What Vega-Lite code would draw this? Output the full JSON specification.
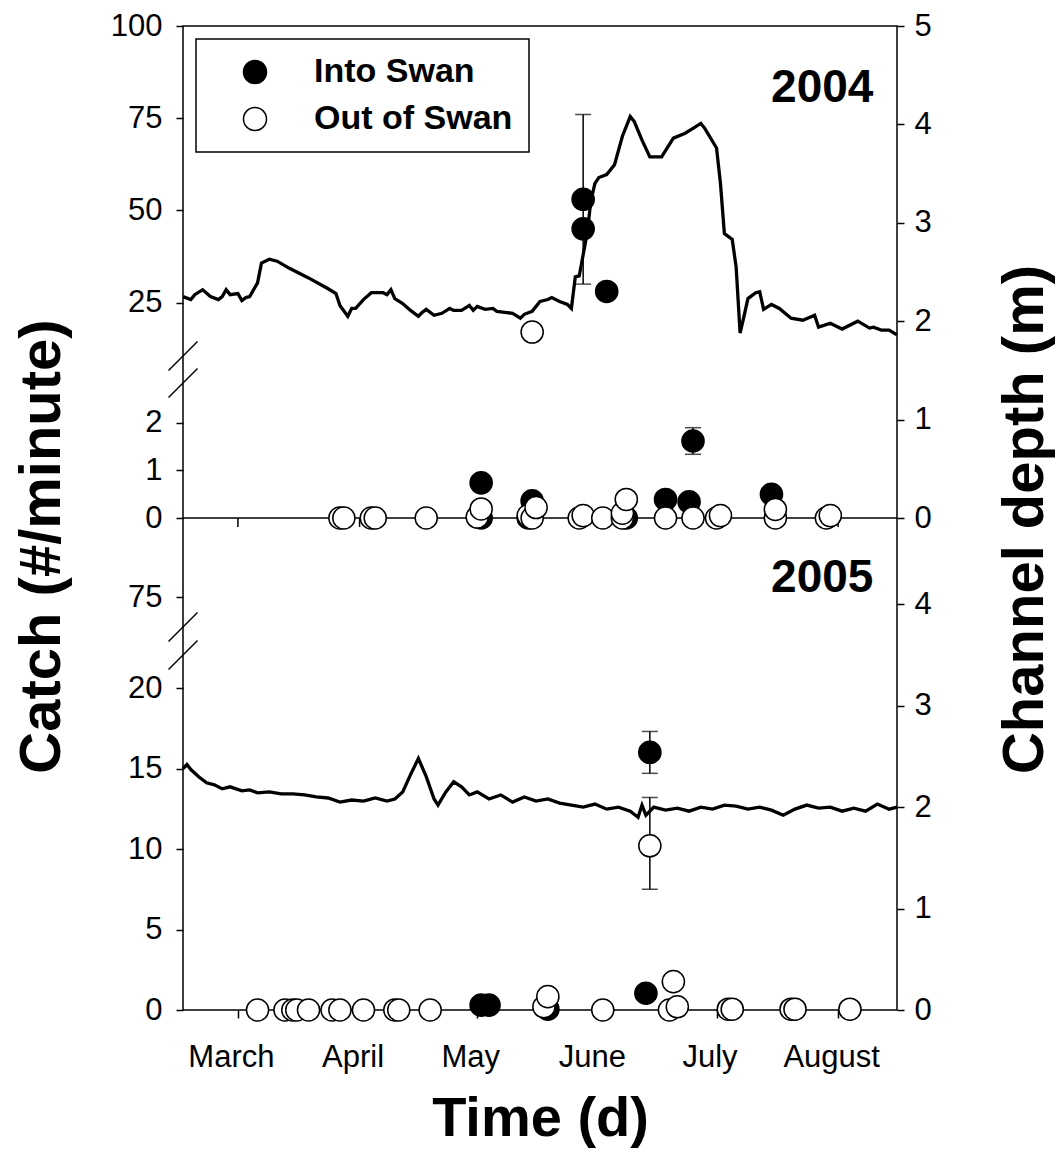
{
  "$schema": "https://vega.github.io/schema/vega-lite/v6.json",
  "width": 714,
  "height": 984,
  "autosize": {"type": "none"},
  "padding": {"left": 183, "top": 26, "right": 160, "bottom": 155},
  "background": "white",
  "config": {
    "view": {"stroke": "black", "strokeWidth": 1.5},
    "font": "Liberation Sans",
    "axis": {
      "domain": false, "grid": false, "ticks": true, "tickColor": "black", "tickWidth": 1.5, "tickSize": 7,
      "labelFont": "Liberation Sans", "labelFontSize": 31, "labelColor": "black",
      "titleFont": "Liberation Sans", "titleFontSize": 58, "titleFontWeight": "bold", "titleColor": "black",
      "labelFlush": false, "labelOverlap": false
    },
    "legend": {"strokeWidth": 1.5}
  },
  "datasets": {
    "depth2004": [
      {"date": "2004/02/16", "depth": 2.25}, {"date": "2004/02/18", "depth": 2.22}, {"date": "2004/02/19", "depth": 2.27},
      {"date": "2004/02/21", "depth": 2.32}, {"date": "2004/02/23", "depth": 2.25}, {"date": "2004/02/25", "depth": 2.22},
      {"date": "2004/02/26", "depth": 2.25}, {"date": "2004/02/27", "depth": 2.32}, {"date": "2004/02/28", "depth": 2.27},
      {"date": "2004/03/01", "depth": 2.28}, {"date": "2004/03/02", "depth": 2.21}, {"date": "2004/03/03", "depth": 2.24},
      {"date": "2004/03/04", "depth": 2.25}, {"date": "2004/03/06", "depth": 2.39}, {"date": "2004/03/07", "depth": 2.59},
      {"date": "2004/03/09", "depth": 2.63}, {"date": "2004/03/11", "depth": 2.61}, {"date": "2004/03/14", "depth": 2.54},
      {"date": "2004/03/19", "depth": 2.44}, {"date": "2004/03/24", "depth": 2.33}, {"date": "2004/03/26", "depth": 2.28},
      {"date": "2004/03/27", "depth": 2.16}, {"date": "2004/03/29", "depth": 2.05}, {"date": "2004/03/30", "depth": 2.13},
      {"date": "2004/03/31", "depth": 2.13}, {"date": "2004/04/02", "depth": 2.22}, {"date": "2004/04/04", "depth": 2.29},
      {"date": "2004/04/07", "depth": 2.29}, {"date": "2004/04/08", "depth": 2.27}, {"date": "2004/04/09", "depth": 2.32},
      {"date": "2004/04/10", "depth": 2.23}, {"date": "2004/04/12", "depth": 2.18}, {"date": "2004/04/14", "depth": 2.11},
      {"date": "2004/04/16", "depth": 2.05}, {"date": "2004/04/17", "depth": 2.09}, {"date": "2004/04/18", "depth": 2.12},
      {"date": "2004/04/20", "depth": 2.06}, {"date": "2004/04/22", "depth": 2.08}, {"date": "2004/04/24", "depth": 2.13},
      {"date": "2004/04/25", "depth": 2.11}, {"date": "2004/04/27", "depth": 2.11}, {"date": "2004/04/29", "depth": 2.16},
      {"date": "2004/04/30", "depth": 2.11}, {"date": "2004/05/01", "depth": 2.15}, {"date": "2004/05/03", "depth": 2.12},
      {"date": "2004/05/05", "depth": 2.13}, {"date": "2004/05/06", "depth": 2.10}, {"date": "2004/05/08", "depth": 2.09},
      {"date": "2004/05/10", "depth": 2.08}, {"date": "2004/05/12", "depth": 2.03}, {"date": "2004/05/13", "depth": 2.07},
      {"date": "2004/05/15", "depth": 2.10}, {"date": "2004/05/17", "depth": 2.20}, {"date": "2004/05/19", "depth": 2.22},
      {"date": "2004/05/20", "depth": 2.24}, {"date": "2004/05/22", "depth": 2.20}, {"date": "2004/05/24", "depth": 2.17},
      {"date": "2004/05/25", "depth": 2.13}, {"date": "2004/05/26", "depth": 2.45}, {"date": "2004/05/27", "depth": 2.46},
      {"date": "2004/05/29", "depth": 2.89}, {"date": "2004/05/30", "depth": 3.23}, {"date": "2004/05/31", "depth": 3.40},
      {"date": "2004/06/01", "depth": 3.46}, {"date": "2004/06/03", "depth": 3.49}, {"date": "2004/06/05", "depth": 3.59},
      {"date": "2004/06/07", "depth": 3.88}, {"date": "2004/06/09", "depth": 4.08}, {"date": "2004/06/10", "depth": 4.03},
      {"date": "2004/06/12", "depth": 3.84}, {"date": "2004/06/14", "depth": 3.67}, {"date": "2004/06/17", "depth": 3.67},
      {"date": "2004/06/20", "depth": 3.86}, {"date": "2004/06/23", "depth": 3.91}, {"date": "2004/06/25", "depth": 3.96},
      {"date": "2004/06/27", "depth": 4.01}, {"date": "2004/06/28", "depth": 3.96}, {"date": "2004/07/01", "depth": 3.76},
      {"date": "2004/07/02", "depth": 3.40}, {"date": "2004/07/03", "depth": 2.89}, {"date": "2004/07/05", "depth": 2.83},
      {"date": "2004/07/06", "depth": 2.55}, {"date": "2004/07/07", "depth": 1.88}, {"date": "2004/07/08", "depth": 2.05},
      {"date": "2004/07/09", "depth": 2.23}, {"date": "2004/07/11", "depth": 2.29}, {"date": "2004/07/12", "depth": 2.30},
      {"date": "2004/07/13", "depth": 2.12}, {"date": "2004/07/15", "depth": 2.17}, {"date": "2004/07/17", "depth": 2.13},
      {"date": "2004/07/20", "depth": 2.03}, {"date": "2004/07/23", "depth": 2.01}, {"date": "2004/07/26", "depth": 2.06},
      {"date": "2004/07/27", "depth": 1.94}, {"date": "2004/07/30", "depth": 1.98}, {"date": "2004/08/02", "depth": 1.92},
      {"date": "2004/08/06", "depth": 2.00}, {"date": "2004/08/09", "depth": 1.93}, {"date": "2004/08/10", "depth": 1.94},
      {"date": "2004/08/12", "depth": 1.91}, {"date": "2004/08/14", "depth": 1.91}, {"date": "2004/08/16", "depth": 1.86}
    ],
    "depth2005": [
      {"date": "2005/02/16", "depth": 2.38}, {"date": "2005/02/17", "depth": 2.42}, {"date": "2005/02/18", "depth": 2.37},
      {"date": "2005/02/20", "depth": 2.30}, {"date": "2005/02/22", "depth": 2.24}, {"date": "2005/02/24", "depth": 2.22},
      {"date": "2005/02/26", "depth": 2.18}, {"date": "2005/02/28", "depth": 2.20}, {"date": "2005/03/02", "depth": 2.16},
      {"date": "2005/03/04", "depth": 2.17}, {"date": "2005/03/06", "depth": 2.14}, {"date": "2005/03/09", "depth": 2.15},
      {"date": "2005/03/12", "depth": 2.13}, {"date": "2005/03/15", "depth": 2.13}, {"date": "2005/03/18", "depth": 2.12},
      {"date": "2005/03/21", "depth": 2.10}, {"date": "2005/03/24", "depth": 2.09}, {"date": "2005/03/27", "depth": 2.05},
      {"date": "2005/03/30", "depth": 2.07}, {"date": "2005/04/02", "depth": 2.06}, {"date": "2005/04/05", "depth": 2.09},
      {"date": "2005/04/08", "depth": 2.06}, {"date": "2005/04/10", "depth": 2.08}, {"date": "2005/04/12", "depth": 2.15},
      {"date": "2005/04/14", "depth": 2.32}, {"date": "2005/04/16", "depth": 2.48}, {"date": "2005/04/18", "depth": 2.30},
      {"date": "2005/04/20", "depth": 2.08}, {"date": "2005/04/21", "depth": 2.02}, {"date": "2005/04/23", "depth": 2.15},
      {"date": "2005/04/25", "depth": 2.25}, {"date": "2005/04/27", "depth": 2.20}, {"date": "2005/04/29", "depth": 2.12},
      {"date": "2005/05/01", "depth": 2.15}, {"date": "2005/05/04", "depth": 2.08}, {"date": "2005/05/07", "depth": 2.12},
      {"date": "2005/05/10", "depth": 2.05}, {"date": "2005/05/13", "depth": 2.10}, {"date": "2005/05/16", "depth": 2.06},
      {"date": "2005/05/19", "depth": 2.08}, {"date": "2005/05/22", "depth": 2.04}, {"date": "2005/05/25", "depth": 2.02},
      {"date": "2005/05/28", "depth": 2.00}, {"date": "2005/05/31", "depth": 2.03}, {"date": "2005/06/03", "depth": 1.98},
      {"date": "2005/06/06", "depth": 2.00}, {"date": "2005/06/09", "depth": 1.96}, {"date": "2005/06/11", "depth": 1.90},
      {"date": "2005/06/12", "depth": 2.02}, {"date": "2005/06/13", "depth": 1.92}, {"date": "2005/06/15", "depth": 2.00},
      {"date": "2005/06/18", "depth": 1.97}, {"date": "2005/06/21", "depth": 1.99}, {"date": "2005/06/24", "depth": 1.96},
      {"date": "2005/06/27", "depth": 2.00}, {"date": "2005/06/30", "depth": 1.98}, {"date": "2005/07/03", "depth": 2.02},
      {"date": "2005/07/06", "depth": 2.01}, {"date": "2005/07/09", "depth": 1.98}, {"date": "2005/07/12", "depth": 2.00},
      {"date": "2005/07/15", "depth": 1.97}, {"date": "2005/07/18", "depth": 1.92}, {"date": "2005/07/21", "depth": 1.98},
      {"date": "2005/07/24", "depth": 2.02}, {"date": "2005/07/27", "depth": 1.99}, {"date": "2005/07/30", "depth": 2.00},
      {"date": "2005/08/02", "depth": 1.96}, {"date": "2005/08/05", "depth": 1.99}, {"date": "2005/08/08", "depth": 1.96},
      {"date": "2005/08/11", "depth": 2.03}, {"date": "2005/08/14", "depth": 1.98}, {"date": "2005/08/16", "depth": 2.00}
    ],
    "catch2004": [
      {"date": "2004/05/28", "dir": "Into Swan", "catch": 53, "lo": 30, "hi": 76},
      {"date": "2004/05/28", "dir": "Into Swan", "catch": 45},
      {"date": "2004/06/03", "dir": "Into Swan", "catch": 28},
      {"date": "2004/05/02", "dir": "Into Swan", "catch": 0.74},
      {"date": "2004/05/02", "dir": "Into Swan", "catch": 0.0},
      {"date": "2004/05/15", "dir": "Into Swan", "catch": 0.36},
      {"date": "2004/05/14", "dir": "Into Swan", "catch": 0.0},
      {"date": "2004/06/08", "dir": "Into Swan", "catch": 0.0},
      {"date": "2004/06/18", "dir": "Into Swan", "catch": 0.39},
      {"date": "2004/06/24", "dir": "Into Swan", "catch": 0.34},
      {"date": "2004/06/25", "dir": "Into Swan", "catch": 1.62, "lo": 1.34, "hi": 1.9},
      {"date": "2004/07/15", "dir": "Into Swan", "catch": 0.5},
      {"date": "2004/05/15", "dir": "Out of Swan", "catch": 17},
      {"date": "2004/03/27", "dir": "Out of Swan", "catch": 0.0},
      {"date": "2004/03/28", "dir": "Out of Swan", "catch": 0.0},
      {"date": "2004/04/04", "dir": "Out of Swan", "catch": 0.0},
      {"date": "2004/04/05", "dir": "Out of Swan", "catch": 0.0},
      {"date": "2004/04/18", "dir": "Out of Swan", "catch": 0.0},
      {"date": "2004/05/01", "dir": "Out of Swan", "catch": 0.02},
      {"date": "2004/05/02", "dir": "Out of Swan", "catch": 0.19},
      {"date": "2004/05/14", "dir": "Out of Swan", "catch": 0.05},
      {"date": "2004/05/15", "dir": "Out of Swan", "catch": 0.0},
      {"date": "2004/05/16", "dir": "Out of Swan", "catch": 0.22},
      {"date": "2004/05/27", "dir": "Out of Swan", "catch": 0.0},
      {"date": "2004/05/28", "dir": "Out of Swan", "catch": 0.05},
      {"date": "2004/06/02", "dir": "Out of Swan", "catch": 0.0},
      {"date": "2004/06/07", "dir": "Out of Swan", "catch": 0.0},
      {"date": "2004/06/07", "dir": "Out of Swan", "catch": 0.1},
      {"date": "2004/06/08", "dir": "Out of Swan", "catch": 0.39},
      {"date": "2004/06/18", "dir": "Out of Swan", "catch": 0.0},
      {"date": "2004/06/25", "dir": "Out of Swan", "catch": 0.0},
      {"date": "2004/07/01", "dir": "Out of Swan", "catch": 0.0},
      {"date": "2004/07/02", "dir": "Out of Swan", "catch": 0.05},
      {"date": "2004/07/16", "dir": "Out of Swan", "catch": 0.0},
      {"date": "2004/07/16", "dir": "Out of Swan", "catch": 0.18},
      {"date": "2004/07/29", "dir": "Out of Swan", "catch": 0.0},
      {"date": "2004/07/30", "dir": "Out of Swan", "catch": 0.05}
    ],
    "catch2005": [
      {"date": "2005/05/02", "dir": "Into Swan", "catch": 0.3},
      {"date": "2005/05/04", "dir": "Into Swan", "catch": 0.3},
      {"date": "2005/05/19", "dir": "Into Swan", "catch": 0.05},
      {"date": "2005/06/13", "dir": "Into Swan", "catch": 1.04},
      {"date": "2005/06/14", "dir": "Into Swan", "catch": 16, "lo": 14.7, "hi": 17.3},
      {"date": "2005/03/06", "dir": "Out of Swan", "catch": 0.0},
      {"date": "2005/03/13", "dir": "Out of Swan", "catch": 0.0},
      {"date": "2005/03/15", "dir": "Out of Swan", "catch": 0.0},
      {"date": "2005/03/16", "dir": "Out of Swan", "catch": 0.0},
      {"date": "2005/03/19", "dir": "Out of Swan", "catch": 0.0},
      {"date": "2005/03/25", "dir": "Out of Swan", "catch": 0.0},
      {"date": "2005/03/27", "dir": "Out of Swan", "catch": 0.0},
      {"date": "2005/04/02", "dir": "Out of Swan", "catch": 0.0},
      {"date": "2005/04/10", "dir": "Out of Swan", "catch": 0.0},
      {"date": "2005/04/11", "dir": "Out of Swan", "catch": 0.0},
      {"date": "2005/04/19", "dir": "Out of Swan", "catch": 0.0},
      {"date": "2005/05/18", "dir": "Out of Swan", "catch": 0.2},
      {"date": "2005/05/19", "dir": "Out of Swan", "catch": 0.83},
      {"date": "2005/06/02", "dir": "Out of Swan", "catch": 0.0},
      {"date": "2005/06/14", "dir": "Out of Swan", "catch": 10.2, "lo": 7.5, "hi": 13.2},
      {"date": "2005/06/19", "dir": "Out of Swan", "catch": 0.0},
      {"date": "2005/06/20", "dir": "Out of Swan", "catch": 1.76},
      {"date": "2005/06/21", "dir": "Out of Swan", "catch": 0.2},
      {"date": "2005/07/04", "dir": "Out of Swan", "catch": 0.05},
      {"date": "2005/07/05", "dir": "Out of Swan", "catch": 0.05},
      {"date": "2005/07/20", "dir": "Out of Swan", "catch": 0.05},
      {"date": "2005/07/21", "dir": "Out of Swan", "catch": 0.05},
      {"date": "2005/08/04", "dir": "Out of Swan", "catch": 0.05}
    ],
    "breaks": [
      {"seg": "2004hi", "date": "2004/02/16", "v": 10.5},
      {"seg": "2004lo", "date": "2004/02/16", "v": 2.84},
      {"seg": "2005hi", "date": "2005/02/16", "v": 66.9},
      {"seg": "2005lo", "date": "2005/02/16", "v": 22.05}
    ],
    "months": [
      {"date": "2004/03/01"}, {"date": "2004/04/01"}, {"date": "2004/05/01"},
      {"date": "2004/06/01"}, {"date": "2004/07/01"}, {"date": "2004/08/01"}
    ],
    "labels": [
      {"label": "2004", "date": "2004/08/10", "pos": 4.23},
      {"label": "2005", "date": "2005/08/10", "pos": 4.12}
    ]
  },
  "resolve": {"scale": {"y": "independent"}},
  "layer": [
    {
      "layer": [
        {
          "data": {"name": "depth2004"},
          "mark": {"type": "line", "color": "black", "strokeWidth": 3.3},
          "encoding": {
            "x": {"field": "date", "timeUnit": "monthdate", "type": "temporal", "scale": {"domain": [{"year": 2012, "month": 2, "date": 16}, {"year": 2012, "month": 8, "date": 16}], "nice": false}, "axis": {"values": [{"year": 2012, "month": 3, "date": 1}, {"year": 2012, "month": 4, "date": 1}, {"year": 2012, "month": 5, "date": 1}, {"year": 2012, "month": 6, "date": 1}, {"year": 2012, "month": 7, "date": 1}, {"year": 2012, "month": 8, "date": 1}], "format": "%B", "labelOffset": -7, "tickSize": 8, "labelPadding": 24, "title": "Time (d)", "titleFontSize": 56, "titleY": 125, "titleBaseline": "alphabetic"}},
            "y": {"field": "depth", "type": "quantitative", "scale": {"domain": [0, 5], "range": [492, 0], "nice": false, "zero": false}, "axis": {"orient": "right", "values": [0, 1, 2, 3, 4, 5], "labelPadding": 10, "title": "Channel depth (m)", "titleAngle": 270, "titleX": 145, "titleY": 493, "titleBaseline": "alphabetic", "titleAlign": "center"}}
          }
        },
        {
          "data": {"name": "labels"},
          "transform": [{"filter": "datum.label == '2004'"}],
          "mark": {"type": "text", "align": "right", "baseline": "alphabetic", "fontSize": 46, "fontWeight": "bold", "font": "Liberation Sans", "color": "black"},
          "encoding": {
            "x": {"field": "date", "timeUnit": "monthdate", "type": "temporal", "scale": {"domain": [{"year": 2012, "month": 2, "date": 16}, {"year": 2012, "month": 8, "date": 16}], "nice": false}, "axis": {"values": [{"year": 2012, "month": 3, "date": 1}, {"year": 2012, "month": 4, "date": 1}, {"year": 2012, "month": 5, "date": 1}, {"year": 2012, "month": 6, "date": 1}, {"year": 2012, "month": 7, "date": 1}, {"year": 2012, "month": 8, "date": 1}], "format": "%B", "labelOffset": -7, "tickSize": 8, "labelPadding": 24, "title": "Time (d)", "titleFontSize": 56, "titleY": 125, "titleBaseline": "alphabetic"}},
            "y": {"field": "pos", "type": "quantitative", "scale": {"domain": [0, 5], "range": [492, 0], "nice": false, "zero": false}, "axis": {"orient": "right", "values": [0, 1, 2, 3, 4, 5], "labelPadding": 10, "title": "Channel depth (m)", "titleAngle": 270, "titleX": 145, "titleY": 493, "titleBaseline": "alphabetic", "titleAlign": "center"}},
            "text": {"field": "label"}
          }
        }
      ]
    },
    {
      "layer": [
        {
          "data": {"name": "depth2005"},
          "mark": {"type": "line", "color": "black", "strokeWidth": 3.3},
          "encoding": {
            "x": {"field": "date", "timeUnit": "monthdate", "type": "temporal", "scale": {"domain": [{"year": 2012, "month": 2, "date": 16}, {"year": 2012, "month": 8, "date": 16}], "nice": false}, "axis": {"values": [{"year": 2012, "month": 3, "date": 1}, {"year": 2012, "month": 4, "date": 1}, {"year": 2012, "month": 5, "date": 1}, {"year": 2012, "month": 6, "date": 1}, {"year": 2012, "month": 7, "date": 1}, {"year": 2012, "month": 8, "date": 1}], "format": "%B", "labelOffset": -7, "tickSize": 8, "labelPadding": 24, "title": "Time (d)", "titleFontSize": 56, "titleY": 125, "titleBaseline": "alphabetic"}},
            "y": {"field": "depth", "type": "quantitative", "scale": {"domain": [0, 4.85], "range": [984, 492], "nice": false, "zero": false}, "axis": {"orient": "right", "values": [0, 1, 2, 3, 4], "labelPadding": 10, "title": null}}
          }
        },
        {
          "data": {"name": "labels"},
          "transform": [{"filter": "datum.label == '2005'"}],
          "mark": {"type": "text", "align": "right", "baseline": "alphabetic", "fontSize": 46, "fontWeight": "bold", "font": "Liberation Sans", "color": "black"},
          "encoding": {
            "x": {"field": "date", "timeUnit": "monthdate", "type": "temporal", "scale": {"domain": [{"year": 2012, "month": 2, "date": 16}, {"year": 2012, "month": 8, "date": 16}], "nice": false}, "axis": {"values": [{"year": 2012, "month": 3, "date": 1}, {"year": 2012, "month": 4, "date": 1}, {"year": 2012, "month": 5, "date": 1}, {"year": 2012, "month": 6, "date": 1}, {"year": 2012, "month": 7, "date": 1}, {"year": 2012, "month": 8, "date": 1}], "format": "%B", "labelOffset": -7, "tickSize": 8, "labelPadding": 24, "title": "Time (d)", "titleFontSize": 56, "titleY": 125, "titleBaseline": "alphabetic"}},
            "y": {"field": "pos", "type": "quantitative", "scale": {"domain": [0, 4.85], "range": [984, 492], "nice": false, "zero": false}, "axis": {"orient": "right", "values": [0, 1, 2, 3, 4], "labelPadding": 10, "title": null}},
            "text": {"field": "label"}
          }
        }
      ]
    },
    {
      "layer": [
        {
          "data": {"name": "catch2004"},
          "transform": [{"filter": "datum.catch > 5 && isValid(datum.hi)"}],
          "mark": {"type": "errorbar", "ticks": true, "size": 16, "thickness": 1.5, "color": "black"},
          "encoding": {
            "x": {"field": "date", "timeUnit": "monthdate", "type": "temporal", "scale": {"domain": [{"year": 2012, "month": 2, "date": 16}, {"year": 2012, "month": 8, "date": 16}], "nice": false}, "axis": {"values": [{"year": 2012, "month": 3, "date": 1}, {"year": 2012, "month": 4, "date": 1}, {"year": 2012, "month": 5, "date": 1}, {"year": 2012, "month": 6, "date": 1}, {"year": 2012, "month": 7, "date": 1}, {"year": 2012, "month": 8, "date": 1}], "format": "%B", "labelOffset": -7, "tickSize": 8, "labelPadding": 24, "title": "Time (d)", "titleFontSize": 56, "titleY": 125, "titleBaseline": "alphabetic"}},
            "y": {"field": "lo", "type": "quantitative", "scale": {"domain": [10.5, 100], "range": [330, 0], "nice": false, "zero": false}, "axis": {"orient": "left", "values": [25, 50, 75, 100], "labelPadding": 14, "title": "Catch (#/minute)", "titleAngle": 270, "titleX": -124, "titleY": 520, "titleBaseline": "alphabetic", "titleAlign": "center"}},
            "y2": {"field": "hi"}
          }
        },
        {
          "data": {"name": "catch2004"},
          "transform": [{"filter": "datum.catch > 5"}],
          "mark": {"type": "point", "shape": "circle", "filled": true, "size": 490, "stroke": "black", "strokeWidth": 1.5, "opacity": 1},
          "encoding": {
            "x": {"field": "date", "timeUnit": "monthdate", "type": "temporal", "scale": {"domain": [{"year": 2012, "month": 2, "date": 16}, {"year": 2012, "month": 8, "date": 16}], "nice": false}, "axis": {"values": [{"year": 2012, "month": 3, "date": 1}, {"year": 2012, "month": 4, "date": 1}, {"year": 2012, "month": 5, "date": 1}, {"year": 2012, "month": 6, "date": 1}, {"year": 2012, "month": 7, "date": 1}, {"year": 2012, "month": 8, "date": 1}], "format": "%B", "labelOffset": -7, "tickSize": 8, "labelPadding": 24, "title": "Time (d)", "titleFontSize": 56, "titleY": 125, "titleBaseline": "alphabetic"}},
            "y": {"field": "catch", "type": "quantitative", "scale": {"domain": [10.5, 100], "range": [330, 0], "nice": false, "zero": false}, "axis": {"orient": "left", "values": [25, 50, 75, 100], "labelPadding": 14, "title": "Catch (#/minute)", "titleAngle": 270, "titleX": -124, "titleY": 520, "titleBaseline": "alphabetic", "titleAlign": "center"}},
            "fill": {"field": "dir", "type": "nominal", "scale": {"domain": ["Into Swan", "Out of Swan"], "range": ["black", "white"]}, "legend": {"title": null, "orient": "top-left", "offset": 13, "padding": 16, "symbolOffset": 26, "labelOffset": 42, "rowPadding": 13, "symbolSize": 531, "symbolType": "circle", "symbolStrokeColor": "black", "symbolStrokeWidth": 1.5, "labelFont": "Liberation Sans", "labelFontSize": 34, "labelFontWeight": "bold", "labelColor": "black", "labelLimit": 400, "strokeColor": "black", "fillColor": "white"}}
          }
        },
        {
          "data": {"name": "breaks"},
          "transform": [{"filter": "datum.seg == '2004hi'"}],
          "mark": {"type": "point", "shape": "M-1,1L1,-1", "size": 841, "stroke": "black", "strokeWidth": 1.5, "filled": false, "opacity": 1},
          "encoding": {
            "x": {"field": "date", "timeUnit": "monthdate", "type": "temporal", "scale": {"domain": [{"year": 2012, "month": 2, "date": 16}, {"year": 2012, "month": 8, "date": 16}], "nice": false}, "axis": {"values": [{"year": 2012, "month": 3, "date": 1}, {"year": 2012, "month": 4, "date": 1}, {"year": 2012, "month": 5, "date": 1}, {"year": 2012, "month": 6, "date": 1}, {"year": 2012, "month": 7, "date": 1}, {"year": 2012, "month": 8, "date": 1}], "format": "%B", "labelOffset": -7, "tickSize": 8, "labelPadding": 24, "title": "Time (d)", "titleFontSize": 56, "titleY": 125, "titleBaseline": "alphabetic"}},
            "y": {"field": "v", "type": "quantitative", "scale": {"domain": [10.5, 100], "range": [330, 0], "nice": false, "zero": false}, "axis": {"orient": "left", "values": [25, 50, 75, 100], "labelPadding": 14, "title": "Catch (#/minute)", "titleAngle": 270, "titleX": -124, "titleY": 520, "titleBaseline": "alphabetic", "titleAlign": "center"}}
          }
        }
      ]
    },
    {
      "layer": [
        {
          "data": {"values": [{"z": 0}]},
          "mark": {"type": "rule", "color": "black", "strokeWidth": 1.5},
          "encoding": {
            "y": {"field": "z", "type": "quantitative", "scale": {"domain": [0, 2.84], "range": [492, 357], "nice": false, "zero": false}, "axis": {"orient": "left", "values": [0, 1, 2], "labelPadding": 14, "title": null}}
          }
        },
        {
          "data": {"name": "months"},
          "mark": {"type": "point", "shape": "M0,0L0,1", "size": 324, "stroke": "black", "strokeWidth": 1.5, "filled": false, "opacity": 1},
          "encoding": {
            "x": {"field": "date", "timeUnit": "monthdate", "type": "temporal", "scale": {"domain": [{"year": 2012, "month": 2, "date": 16}, {"year": 2012, "month": 8, "date": 16}], "nice": false}, "axis": {"values": [{"year": 2012, "month": 3, "date": 1}, {"year": 2012, "month": 4, "date": 1}, {"year": 2012, "month": 5, "date": 1}, {"year": 2012, "month": 6, "date": 1}, {"year": 2012, "month": 7, "date": 1}, {"year": 2012, "month": 8, "date": 1}], "format": "%B", "labelOffset": -7, "tickSize": 8, "labelPadding": 24, "title": "Time (d)", "titleFontSize": 56, "titleY": 125, "titleBaseline": "alphabetic"}},
            "y": {"datum": 0, "type": "quantitative", "scale": {"domain": [0, 2.84], "range": [492, 357], "nice": false, "zero": false}, "axis": {"orient": "left", "values": [0, 1, 2], "labelPadding": 14, "title": null}}
          }
        },
        {
          "data": {"name": "catch2004"},
          "transform": [{"filter": "datum.catch <= 5 && isValid(datum.hi)"}],
          "mark": {"type": "errorbar", "ticks": true, "size": 16, "thickness": 1.5, "color": "black"},
          "encoding": {
            "x": {"field": "date", "timeUnit": "monthdate", "type": "temporal", "scale": {"domain": [{"year": 2012, "month": 2, "date": 16}, {"year": 2012, "month": 8, "date": 16}], "nice": false}, "axis": {"values": [{"year": 2012, "month": 3, "date": 1}, {"year": 2012, "month": 4, "date": 1}, {"year": 2012, "month": 5, "date": 1}, {"year": 2012, "month": 6, "date": 1}, {"year": 2012, "month": 7, "date": 1}, {"year": 2012, "month": 8, "date": 1}], "format": "%B", "labelOffset": -7, "tickSize": 8, "labelPadding": 24, "title": "Time (d)", "titleFontSize": 56, "titleY": 125, "titleBaseline": "alphabetic"}},
            "y": {"field": "lo", "type": "quantitative", "scale": {"domain": [0, 2.84], "range": [492, 357], "nice": false, "zero": false}, "axis": {"orient": "left", "values": [0, 1, 2], "labelPadding": 14, "title": null}},
            "y2": {"field": "hi"}
          }
        },
        {
          "data": {"name": "catch2004"},
          "transform": [{"filter": "datum.catch <= 5"}],
          "mark": {"type": "point", "shape": "circle", "filled": true, "size": 490, "stroke": "black", "strokeWidth": 1.5, "opacity": 1},
          "encoding": {
            "x": {"field": "date", "timeUnit": "monthdate", "type": "temporal", "scale": {"domain": [{"year": 2012, "month": 2, "date": 16}, {"year": 2012, "month": 8, "date": 16}], "nice": false}, "axis": {"values": [{"year": 2012, "month": 3, "date": 1}, {"year": 2012, "month": 4, "date": 1}, {"year": 2012, "month": 5, "date": 1}, {"year": 2012, "month": 6, "date": 1}, {"year": 2012, "month": 7, "date": 1}, {"year": 2012, "month": 8, "date": 1}], "format": "%B", "labelOffset": -7, "tickSize": 8, "labelPadding": 24, "title": "Time (d)", "titleFontSize": 56, "titleY": 125, "titleBaseline": "alphabetic"}},
            "y": {"field": "catch", "type": "quantitative", "scale": {"domain": [0, 2.84], "range": [492, 357], "nice": false, "zero": false}, "axis": {"orient": "left", "values": [0, 1, 2], "labelPadding": 14, "title": null}},
            "fill": {"field": "dir", "type": "nominal", "scale": {"domain": ["Into Swan", "Out of Swan"], "range": ["black", "white"]}, "legend": {"title": null, "orient": "top-left", "offset": 13, "padding": 16, "symbolOffset": 26, "labelOffset": 42, "rowPadding": 13, "symbolSize": 531, "symbolType": "circle", "symbolStrokeColor": "black", "symbolStrokeWidth": 1.5, "labelFont": "Liberation Sans", "labelFontSize": 34, "labelFontWeight": "bold", "labelColor": "black", "labelLimit": 400, "strokeColor": "black", "fillColor": "white"}}
          }
        },
        {
          "data": {"name": "breaks"},
          "transform": [{"filter": "datum.seg == '2004lo'"}],
          "mark": {"type": "point", "shape": "M-1,1L1,-1", "size": 841, "stroke": "black", "strokeWidth": 1.5, "filled": false, "opacity": 1},
          "encoding": {
            "x": {"field": "date", "timeUnit": "monthdate", "type": "temporal", "scale": {"domain": [{"year": 2012, "month": 2, "date": 16}, {"year": 2012, "month": 8, "date": 16}], "nice": false}, "axis": {"values": [{"year": 2012, "month": 3, "date": 1}, {"year": 2012, "month": 4, "date": 1}, {"year": 2012, "month": 5, "date": 1}, {"year": 2012, "month": 6, "date": 1}, {"year": 2012, "month": 7, "date": 1}, {"year": 2012, "month": 8, "date": 1}], "format": "%B", "labelOffset": -7, "tickSize": 8, "labelPadding": 24, "title": "Time (d)", "titleFontSize": 56, "titleY": 125, "titleBaseline": "alphabetic"}},
            "y": {"field": "v", "type": "quantitative", "scale": {"domain": [0, 2.84], "range": [492, 357], "nice": false, "zero": false}, "axis": {"orient": "left", "values": [0, 1, 2], "labelPadding": 14, "title": null}}
          }
        }
      ]
    },
    {
      "layer": [
        {
          "data": {"name": "breaks"},
          "transform": [{"filter": "datum.seg == '2005hi'"}],
          "mark": {"type": "point", "shape": "M-1,1L1,-1", "size": 841, "stroke": "black", "strokeWidth": 1.5, "filled": false, "opacity": 1},
          "encoding": {
            "x": {"field": "date", "timeUnit": "monthdate", "type": "temporal", "scale": {"domain": [{"year": 2012, "month": 2, "date": 16}, {"year": 2012, "month": 8, "date": 16}], "nice": false}, "axis": {"values": [{"year": 2012, "month": 3, "date": 1}, {"year": 2012, "month": 4, "date": 1}, {"year": 2012, "month": 5, "date": 1}, {"year": 2012, "month": 6, "date": 1}, {"year": 2012, "month": 7, "date": 1}, {"year": 2012, "month": 8, "date": 1}], "format": "%B", "labelOffset": -7, "tickSize": 8, "labelPadding": 24, "title": "Time (d)", "titleFontSize": 56, "titleY": 125, "titleBaseline": "alphabetic"}},
            "y": {"field": "v", "type": "quantitative", "scale": {"domain": [66.9, 96.4], "range": [601, 492], "nice": false, "zero": false}, "axis": {"orient": "left", "values": [75], "labelPadding": 14, "title": null}}
          }
        }
      ]
    },
    {
      "layer": [
        {
          "data": {"name": "catch2005"},
          "transform": [{"filter": "isValid(datum.hi)"}],
          "mark": {"type": "errorbar", "ticks": true, "size": 16, "thickness": 1.5, "color": "black"},
          "encoding": {
            "x": {"field": "date", "timeUnit": "monthdate", "type": "temporal", "scale": {"domain": [{"year": 2012, "month": 2, "date": 16}, {"year": 2012, "month": 8, "date": 16}], "nice": false}, "axis": {"values": [{"year": 2012, "month": 3, "date": 1}, {"year": 2012, "month": 4, "date": 1}, {"year": 2012, "month": 5, "date": 1}, {"year": 2012, "month": 6, "date": 1}, {"year": 2012, "month": 7, "date": 1}, {"year": 2012, "month": 8, "date": 1}], "format": "%B", "labelOffset": -7, "tickSize": 8, "labelPadding": 24, "title": "Time (d)", "titleFontSize": 56, "titleY": 125, "titleBaseline": "alphabetic"}},
            "y": {"field": "lo", "type": "quantitative", "scale": {"domain": [0, 22.05], "range": [984, 629], "nice": false, "zero": false}, "axis": {"orient": "left", "values": [0, 5, 10, 15, 20], "labelPadding": 14, "title": null}},
            "y2": {"field": "hi"}
          }
        },
        {
          "data": {"name": "catch2005"},
          "mark": {"type": "point", "shape": "circle", "filled": true, "size": 490, "stroke": "black", "strokeWidth": 1.5, "opacity": 1},
          "encoding": {
            "x": {"field": "date", "timeUnit": "monthdate", "type": "temporal", "scale": {"domain": [{"year": 2012, "month": 2, "date": 16}, {"year": 2012, "month": 8, "date": 16}], "nice": false}, "axis": {"values": [{"year": 2012, "month": 3, "date": 1}, {"year": 2012, "month": 4, "date": 1}, {"year": 2012, "month": 5, "date": 1}, {"year": 2012, "month": 6, "date": 1}, {"year": 2012, "month": 7, "date": 1}, {"year": 2012, "month": 8, "date": 1}], "format": "%B", "labelOffset": -7, "tickSize": 8, "labelPadding": 24, "title": "Time (d)", "titleFontSize": 56, "titleY": 125, "titleBaseline": "alphabetic"}},
            "y": {"field": "catch", "type": "quantitative", "scale": {"domain": [0, 22.05], "range": [984, 629], "nice": false, "zero": false}, "axis": {"orient": "left", "values": [0, 5, 10, 15, 20], "labelPadding": 14, "title": null}},
            "fill": {"field": "dir", "type": "nominal", "scale": {"domain": ["Into Swan", "Out of Swan"], "range": ["black", "white"]}, "legend": {"title": null, "orient": "top-left", "offset": 13, "padding": 16, "symbolOffset": 26, "labelOffset": 42, "rowPadding": 13, "symbolSize": 531, "symbolType": "circle", "symbolStrokeColor": "black", "symbolStrokeWidth": 1.5, "labelFont": "Liberation Sans", "labelFontSize": 34, "labelFontWeight": "bold", "labelColor": "black", "labelLimit": 400, "strokeColor": "black", "fillColor": "white"}}
          }
        },
        {
          "data": {"name": "breaks"},
          "transform": [{"filter": "datum.seg == '2005lo'"}],
          "mark": {"type": "point", "shape": "M-1,1L1,-1", "size": 841, "stroke": "black", "strokeWidth": 1.5, "filled": false, "opacity": 1},
          "encoding": {
            "x": {"field": "date", "timeUnit": "monthdate", "type": "temporal", "scale": {"domain": [{"year": 2012, "month": 2, "date": 16}, {"year": 2012, "month": 8, "date": 16}], "nice": false}, "axis": {"values": [{"year": 2012, "month": 3, "date": 1}, {"year": 2012, "month": 4, "date": 1}, {"year": 2012, "month": 5, "date": 1}, {"year": 2012, "month": 6, "date": 1}, {"year": 2012, "month": 7, "date": 1}, {"year": 2012, "month": 8, "date": 1}], "format": "%B", "labelOffset": -7, "tickSize": 8, "labelPadding": 24, "title": "Time (d)", "titleFontSize": 56, "titleY": 125, "titleBaseline": "alphabetic"}},
            "y": {"field": "v", "type": "quantitative", "scale": {"domain": [0, 22.05], "range": [984, 629], "nice": false, "zero": false}, "axis": {"orient": "left", "values": [0, 5, 10, 15, 20], "labelPadding": 14, "title": null}}
          }
        }
      ]
    }
  ]
}
